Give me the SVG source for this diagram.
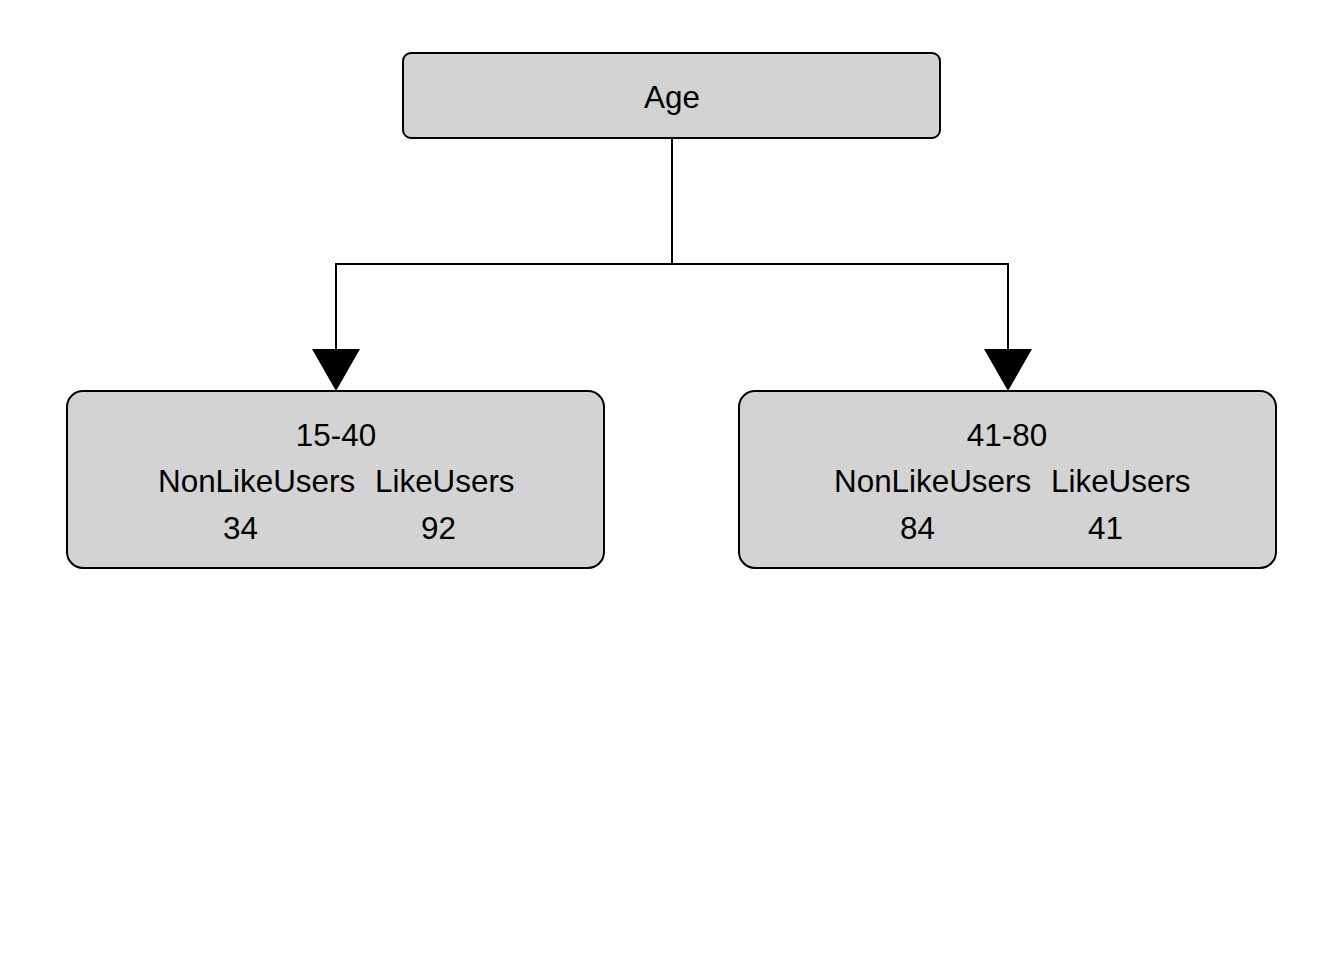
<svg xmlns="http://www.w3.org/2000/svg" width="1344" height="960" viewBox="0 0 1344 960">
<style>
.box{fill:#d3d3d3;stroke:#000;stroke-width:2}
.t{font-family:"Liberation Sans",Arial,sans-serif;font-size:31.4px;fill:#000}
.c{text-anchor:middle}
.edge{fill:none;stroke:#000;stroke-width:2}
.head{fill:#000}
</style>
<rect width="1344" height="960" fill="#fff"/>
<g id="connectors">
<path class="edge" d="M672,138 V264 H336 V349"/>
<polygon class="head" points="312,349 360,349 336,391"/>
<path class="edge" d="M672,264 H1008 V349"/>
<polygon class="head" points="984,349 1032,349 1008,391"/>
</g>
<g id="node-age">
<rect class="box" x="403" y="53" width="537" height="85" rx="8"/>
<text class="t c" x="672" y="108">Age</text>
</g>
<g id="node-15-40">
<rect class="box" x="67" y="391" width="537" height="177" rx="16"/>
<text class="t c" x="336" y="446">15-40</text>
<text class="t" x="158" y="492">NonLikeUsers</text>
<text class="t" x="375" y="492">LikeUsers</text>
<text class="t" x="223" y="539">34</text>
<text class="t" x="421" y="539">92</text>
</g>
<g id="node-41-80">
<rect class="box" x="739" y="391" width="537" height="177" rx="16"/>
<text class="t c" x="1007" y="446">41-80</text>
<text class="t" x="834" y="492">NonLikeUsers</text>
<text class="t" x="1051" y="492">LikeUsers</text>
<text class="t" x="900" y="539">84</text>
<text class="t" x="1088" y="539">41</text>
</g>
</svg>
